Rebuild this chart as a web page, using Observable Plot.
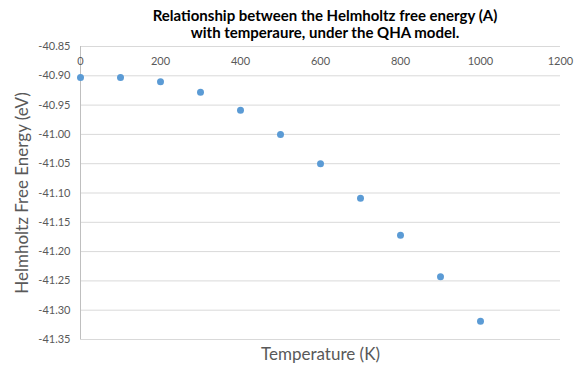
<!DOCTYPE html>
<html>
<head>
<meta charset="utf-8">
<script src="https://cdn.jsdelivr.net/npm/d3@7"></script>
<script src="https://cdn.jsdelivr.net/npm/@observablehq/plot@0.6"></script>
<style>
  html, body { margin: 0; padding: 0; background: #fff; }
  #wrap { width: 584px; height: 369px; overflow: hidden; font-family: Lato, "Open Sans", sans-serif; }
  #title { height: 40px; box-sizing: border-box; padding-top: 7px; padding-left: 66px; text-align: center;
           font-weight: bold; font-size: 15px; line-height: 17px; color: #000; white-space: nowrap; }
</style>
</head>
<body>
<div id="wrap">
  <div id="title">Relationship between the Helmholtz free energy (A)<br>with temperaure, under the QHA model.</div>
  <div id="chart"></div>
</div>
<script>
const temperatures = [0, 100, 200, 300, 400, 500, 600, 700, 800, 900, 1000];
const freeEnergy = [-40.903, -40.903, -40.910, -40.928, -40.959, -41.000, -41.050, -41.109, -41.172, -41.243, -41.319];
const xTicks = [0, 200, 400, 600, 800, 1000, 1200];
const yTicks = [-40.85, -40.90, -40.95, -41.00, -41.05, -41.10, -41.15, -41.20, -41.25, -41.30, -41.35];
const xTitle = "Temperature (K)";
const yTitle = "Helmholtz Free Energy (eV)";

const data = temperatures.map((t, i) => ({t, a: freeEnergy[i]}));

const chart = Plot.plot({
  width: 584,
  height: 329,
  marginLeft: 80,
  marginRight: 24,
  marginTop: 6,
  marginBottom: 30,
  style: {fontFamily: "Lato, 'Open Sans', sans-serif", background: "#fff", overflow: "visible"},
  x: {domain: [0, 1200]},
  y: {domain: [-41.35, -40.85]},
  marks: [
    Plot.ruleY(yTicks, {stroke: "#d9d9d9", strokeWidth: 1}),
    Plot.ruleX([0], {stroke: "#bfbfbf", strokeWidth: 1}),
    Plot.axisY(yTicks, {tickSize: 0, tickPadding: 10, tickFormat: d => d.toFixed(2), fill: "#595959", fontSize: 11, label: null}),
    Plot.axisX(xTicks, {anchor: "top", tickSize: 0, tickPadding: 3, dy: 21, tickFormat: d => String(d), fill: "#595959", fontSize: 11, label: null}),
    Plot.dot(data, {x: "t", y: "a", r: 3.5, fill: "#5b9bd5", stroke: "none"}),
    Plot.text([yTitle], {frameAnchor: "left", rotate: -90, dx: -58, textAnchor: "middle", lineAnchor: "middle", fill: "#595959", fontSize: 17}),
    Plot.text([xTitle], {frameAnchor: "bottom", dy: 15, textAnchor: "middle", lineAnchor: "middle", fill: "#595959", fontSize: 17})
  ]
});
document.getElementById("chart").appendChild(chart);
</script>
</body>
</html>
